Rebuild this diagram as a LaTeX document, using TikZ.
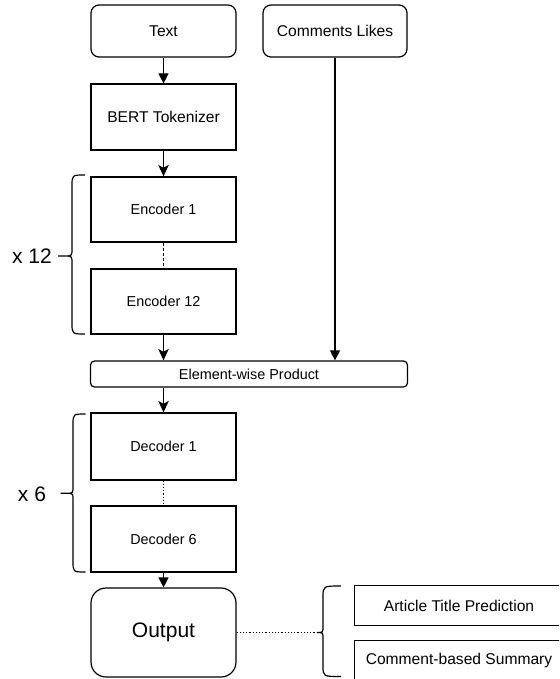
\documentclass[tikz,border=0pt]{standalone}
\usepackage{fontspec}
\setmainfont{Liberation Sans}
\usetikzlibrary{arrows.meta}
\begin{document}
\begin{tikzpicture}[x=1pt,y=-1pt,
  box/.style={draw, line width=1.2pt, minimum width=145pt, inner sep=0pt, align=center},
  bigtxt/.style={font=\fontsize{15.6}{18}\selectfont},
  smalltxt/.style={font=\fontsize{14.4}{17}\selectfont},
  hugetxt/.style={font=\fontsize{21}{24}\selectfont},
  arr/.style={-{Triangle[length=10pt,width=10pt]}, line width=1.2pt},
  narr/.style={-{Stealth[length=11.5pt,width=10.5pt,inset=3pt]}, line width=1.2pt},
  dashline/.style={line width=1.2pt, dash pattern=on 3pt off 2pt},
  dotline/.style={line width=1.2pt, dash pattern=on 1.2pt off 2pt},
  bracestyle/.style={line width=1.2pt},
]
\useasboundingbox (0,0) rectangle (559,679);
\clip (0,0) rectangle (559,679);

% main column
\node[box,bigtxt,rounded corners=8pt,minimum height=52pt] (text) at (163.5,31) {Text};
\node[box,bigtxt,rounded corners=8pt,minimum height=52pt,minimum width=144pt] (cl) at (335,31) {Comments Likes};
\node[box,bigtxt,minimum height=66pt] (bert) at (163.5,117) {BERT Tokenizer};
\node[box,smalltxt,minimum height=65pt] (enc1) at (163.5,209.5) {Encoder 1};
\node[box,smalltxt,minimum height=65pt] (enc12) at (163.5,301.5) {Encoder 12};
\node[box,smalltxt,rounded corners=4pt,minimum width=317pt,minimum height=26pt] (ewp) at (249,374) {Element-wise Product};
\node[box,smalltxt,minimum height=67pt] (dec1) at (163.5,446.5) {Decoder 1};
\node[box,smalltxt,minimum height=66pt] (dec6) at (163.5,539) {Decoder 6};
\node[box,hugetxt,rounded corners=15pt,minimum height=89pt] (out) at (163.5,632.5) {Output};

% output types
\node[box,bigtxt,minimum width=209pt,minimum height=40pt] (atp) at (459,605.5) {Article Title Prediction};
\node[box,bigtxt,minimum width=209pt,minimum height=39pt] (cbs) at (459,660.2) {Comment-based Summary};

% repeat labels
\node[hugetxt] (x12) at (32,256) {x 12};
\node[hugetxt] (x6) at (32,494) {x 6};

% connectors
\draw[arr] (text) -- (bert);
\draw[narr] (bert) -- (enc1);
\draw[dashline] (enc1) -- (enc12);
\draw[narr] (enc12) -- (enc12 |- ewp.north);
\draw[arr] (cl) -- (cl |- ewp.north);
\draw[narr] (ewp.south -| dec1) -- (dec1);
\draw[dotline] (dec1) -- (dec6);
\draw[arr] (dec6) -- (out);
\coordinate (rtip) at (317,632.5);
\draw[dotline] (out) -- (rtip);

% braces
\draw[bracestyle] (85,175) .. controls (72,175) .. (72,186) -- (72,249)
  .. controls (72,256) .. (64,256) -- (58,256)
  (64,256) .. controls (72,256) .. (72,263) -- (72,323)
  .. controls (72,334) .. (85,334);
\draw[bracestyle] (85.5,414) .. controls (73,414) .. (73,425) -- (73,486.5)
  .. controls (73,493.3) .. (66,493.3) -- (60.6,493.3)
  (66,493.3) .. controls (73,493.3) .. (73,500) -- (73,561)
  .. controls (73,572) .. (85.5,572);
\draw[bracestyle] (341,586) .. controls (323,586) .. (323,597) -- (323,626)
  .. controls (323,632.5) .. (317,632.5)
  .. controls (323,632.5) .. (323,639) -- (323,665.5)
  .. controls (323,676.5) .. (341,676.5);
\end{tikzpicture}
\end{document}
